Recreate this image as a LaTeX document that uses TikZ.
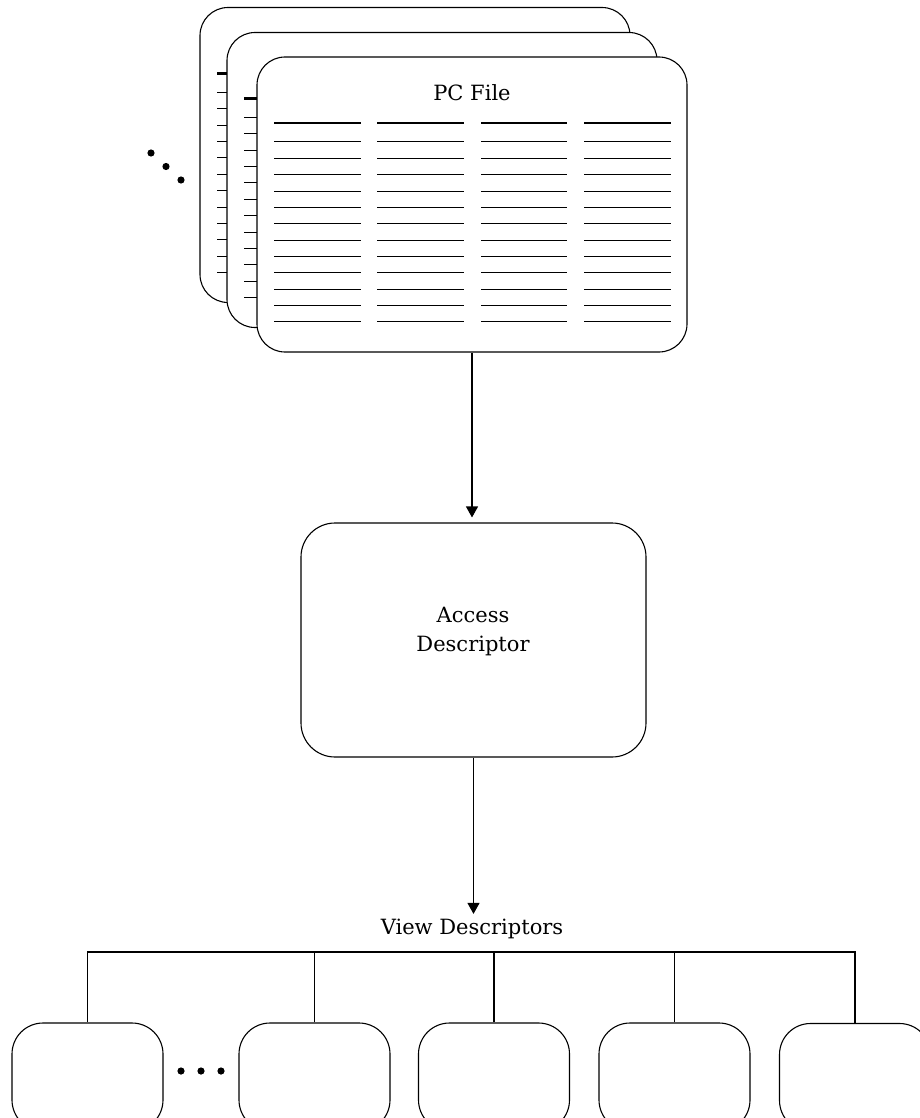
\documentclass[tikz,border=0pt]{standalone}
\usepackage{fontspec}
\setmainfont{DejaVu Serif}
\usetikzlibrary{arrows.meta}
\tikzset{
  card/.style={draw, fill=white, rounded corners=28pt, minimum width=430pt, minimum height=295pt, line width=1.1pt, inner sep=0pt},
  hdr/.style={line width=2.3pt},
  row/.style={line width=1.0pt},
  ad/.style={draw, rounded corners=34pt, minimum width=345pt, minimum height=234pt, line width=1.1pt, inner sep=0pt},
  vbox/.style={draw, rounded corners=31pt, minimum width=151pt, minimum height=108pt, line width=1.1pt, inner sep=0pt},
  lbl/.style={font=\fontsize{21}{29}\selectfont, align=center, inner sep=0pt},
  conn/.style={line width=1.1pt},
  arr/.style={line width=1.1pt, -{Triangle[width=12pt,length=11pt]}, shorten >=5pt},
  dot/.style={fill=black}
}
\newcommand\cardrows[2]{%
  \begin{scope}[shift={(#1,#2)}]
    \foreach \a/\b in {274/361,377/464,481/567,584/671}{
      \draw[hdr] (\a,123) -- (\b,123);
      \foreach \k in {0,...,11} \draw[row] (\a,142+16.36*\k) -- (\b,142+16.36*\k);
    }
  \end{scope}}
\begin{document}
\begin{tikzpicture}[x=1pt,y=-1pt]
\useasboundingbox (0,0) rectangle (920,1118);
\clip (0,0) rectangle (920,1118);
% stacked PC files
\node[card] (back) at (415,155) {};
\cardrows{-57}{-49.5}
\node[card] (middle) at (442,180) {};
\cardrows{-30}{-24.5}
\node[card] (front) at (472,204.5) {};
\cardrows{0}{0}
\node[lbl] (pctext) at (472,93) {PC File};
% ellipsis dots
\fill[dot] (151,153) circle (3.6pt) (166,166.5) circle (3.6pt) (181,180) circle (3.6pt);
% access descriptor
\node[ad] (access) at (473.5,640) {};
\node[lbl] (accesstext) at (473,632) {Access\\Descriptor};
\draw[arr] (front.south) -- (front.south |- access.north);
% view descriptors
\node[lbl] (viewtext) at (472,929) {View Descriptors};
\draw[arr] (access.south) -- (access.south |- viewtext.north);
\node[vbox] (v1) at (87.5,1077) {};
\node[vbox] (v2) at (314.5,1077) {};
\node[vbox] (v3) at (494,1077) {};
\node[vbox] (v4) at (674.5,1077) {};
\node[vbox] (v5) at (855,1077.5) {};
\coordinate (bus) at (472,952);
\draw[conn] (v1.north) |- (bus) -| (v5.north);
\draw[conn] (v2.north) -- (v2.north |- bus);
\draw[conn] (v3.north) -- (v3.north |- bus);
\draw[conn] (v4.north) -- (v4.north |- bus);
\fill[dot] (181,1071) circle (3.6pt) (201,1071) circle (3.6pt) (221,1071) circle (3.6pt);
\end{tikzpicture}
\end{document}
